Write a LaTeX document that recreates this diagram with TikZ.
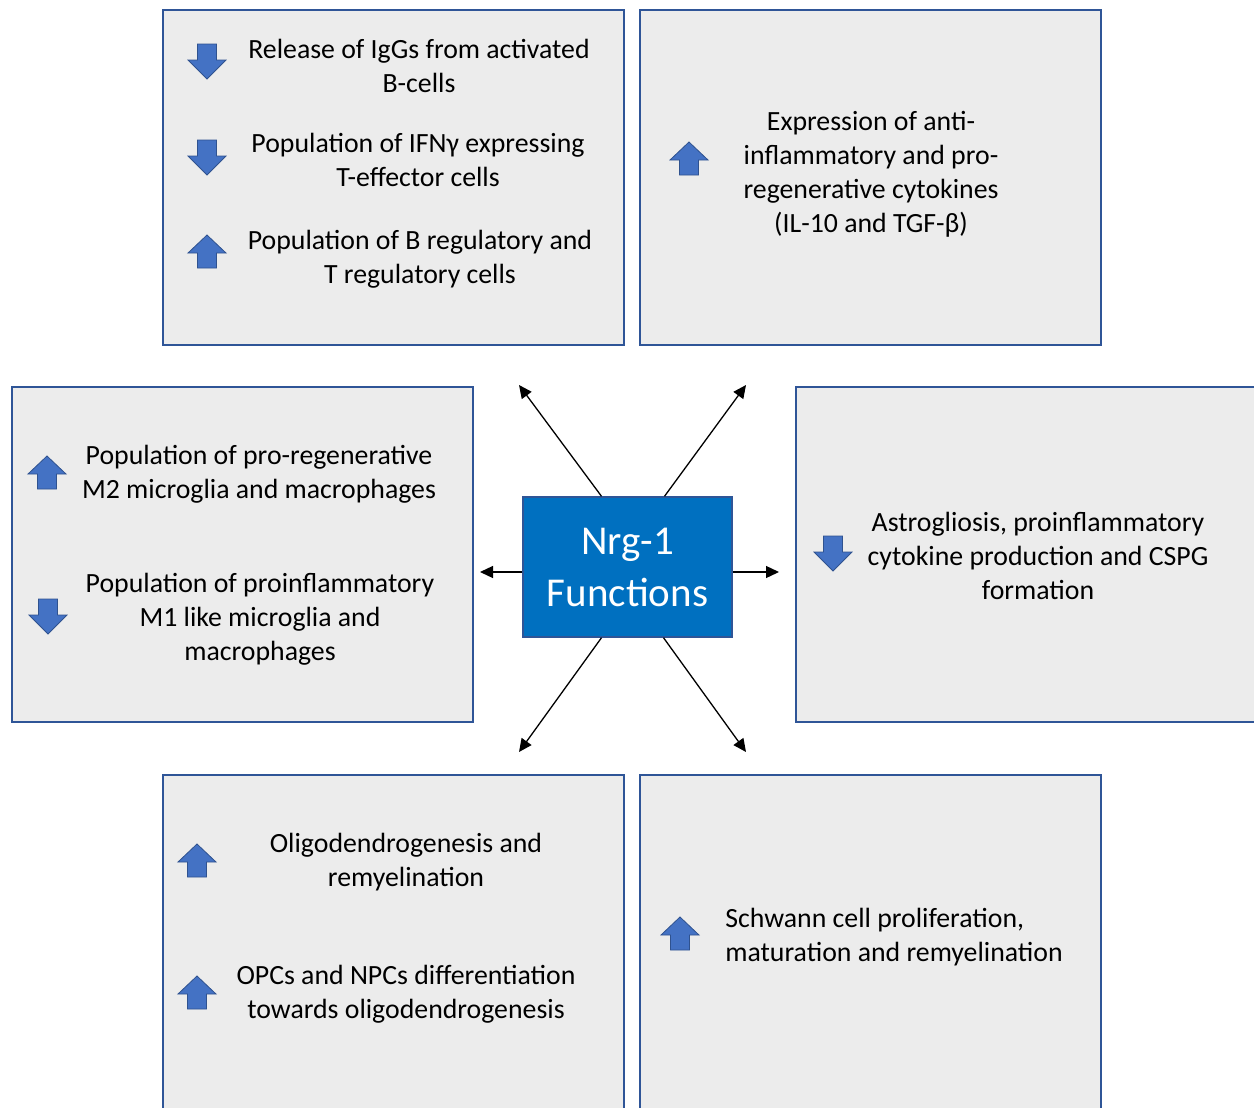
\documentclass[tikz,border=0pt]{standalone}
\usepackage{fontspec}
\setmainfont{Carlito}
\usetikzlibrary{arrows.meta,positioning,calc}
\definecolor{boxgray} {RGB}{236,236,236}
\definecolor{boxedge} {RGB}{47,85,151}
\definecolor{nrgblue} {RGB}{0,112,192}
\definecolor{iconblue}{RGB}{68,114,196}
\definecolor{iconedge}{RGB}{47,82,143}
\tikzset{
  panel/.style  ={draw=boxedge, fill=boxgray, line width=1.2pt,
                  minimum width=230.5pt, minimum height=167.5pt, inner sep=0pt},
  txt/.style    ={align=center, font=\fontsize{13.9}{17}\selectfont, inner sep=0pt,
                  yshift=-1pt},
  nrgbox/.style ={draw=boxedge, fill=nrgblue, line width=0.7pt, text=white,
                  minimum width=104.5pt, minimum height=70pt, align=center,
                  font=\fontsize{20.5}{26}\selectfont},
  arr/.style    ={-{Triangle[length=6.5pt,width=6pt]}, line width=0.65pt},
  icon/.style   ={fill=iconblue, draw=iconedge, line width=0.4pt},
  %% block arrows, placed at the base of the head
  pics/uparr/.style={code={
      \draw[icon] (0,-18)--(19,0)--(9.5,0)--(9.5,15)--(-9.5,15)--(-9.5,0)--(-19,0)--cycle;}},
  pics/downarr/.style={code={
      \draw[icon] (0,19)--(19,0)--(9.5,0)--(9.5,-16)--(-9.5,-16)--(-9.5,0)--(-19,0)--cycle;}},
}

\begin{document}
\begin{tikzpicture}[x=0.5pt,y=-0.5pt]
  \useasboundingbox (0,0) rectangle (1254,1108);
  \clip (0,0) rectangle (1254,1108);
  %% panels
  \node[panel] (ptl) at (393.5,177.5) {};
  \node[panel] (ptr) at (870.5,177.5) {};
  \node[panel] (pl)  at (242.5,554.5) {};
  \node[panel] (pr)  at (1026.5,554.5) {};
  \node[panel] (pbl) at (393.5,942.5) {};
  \node[panel] (pbr) at (870.5,942.5) {};
  %% top left
  \pic (i1) at (207,60)  {downarr};
  \pic (i2) at (207,156) {downarr};
  \pic (i3) at (207,253) {uparr};
  \node[txt] (igg)  at (419,64)  {Release of IgGs from activated\\B-cells};
  \node[txt] (ifn)  at (418,158) {Population of IFNγ expressing\\T-effector cells};
  \node[txt] (breg) at (420,257) {Population of B regulatory and\\T regulatory cells};
  %% top right
  \pic (i4) at (689,160) {uparr};
  \node[txt] (cyto) at (871,172) {Expression of anti-\\inflammatory and pro-\\regenerative cytokines\\(IL-10 and TGF-β)};
  %% left
  \pic (i5) at (47,474)  {uparr};
  \pic (i6) at (48,615)  {downarr};
  \node[txt] (mtwo) at (259,472) {Population of pro-regenerative\\M2 microglia and macrophages};
  \node[txt] (mone) at (260,617) {Population of proinflammatory\\M1 like microglia and\\macrophages};
  %% right
  \pic (i7) at (833,552) {downarr};
  \node[txt] (astro) at (1038,554) {Astrogliosis, proinflammatory\\cytokine production and CSPG\\formation};
  %% bottom left
  \pic (i8) at (197,862) {uparr};
  \pic (i9) at (197,994) {uparr};
  \node[txt] (oligo) at (406,860) {Oligodendrogenesis and\\remyelination};
  \node[txt] (opc)   at (406,992) {OPCs and NPCs differentiation\\towards oligodendrogenesis};
  %% bottom right
  \pic (i10) at (680,935) {uparr};
  \node[txt, align=left, anchor=west] (schw) at (725,935) {Schwann cell proliferation,\\maturation and remyelination};
  %% centre
  \node[nrgbox] (nrg) at (627.5,567) {\raisebox{-1pt}{Nrg-1}\\\raisebox{-1pt}{Functions}};
  \coordinate (ntl) at (519,385);
  \coordinate (ntr) at (746,385);
  \coordinate (nl)  at (480,572);
  \coordinate (nr)  at (779,572);
  \coordinate (nbl) at (519,752);
  \coordinate (nbr) at (746,752);
  \draw[arr] ($(nrg.north)+(-26,0)$) -- (ntl);
  \draw[arr] ($(nrg.north)+(37,0)$)  -- (ntr);
  \draw[arr] ($(nrg.west)+(0,5)$)    -- (nl);
  \draw[arr] ($(nrg.east)+(0,5)$)    -- (nr);
  \draw[arr] ($(nrg.south)+(-26,0)$) -- (nbl);
  \draw[arr] ($(nrg.south)+(36,0)$)  -- (nbr);
\end{tikzpicture}
\end{document}
